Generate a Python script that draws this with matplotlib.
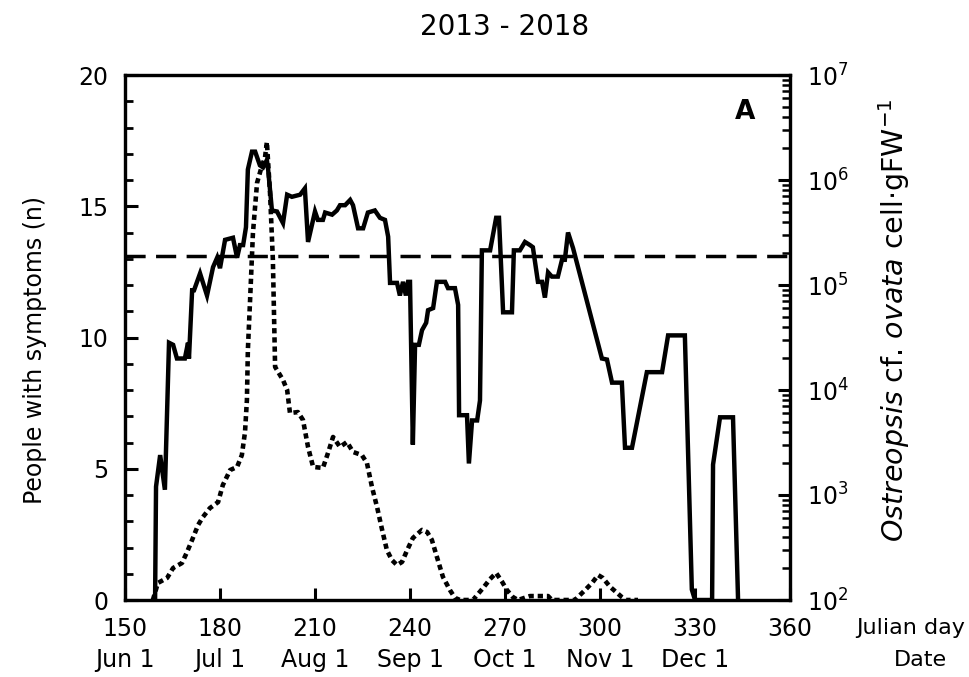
import matplotlib
matplotlib.use("Agg")
import matplotlib.pyplot as plt
from matplotlib.ticker import MultipleLocator, FixedLocator

plt.rcParams['font.family'] = ['DejaVu Sans']
plt.rcParams['mathtext.fontset'] = 'dejavusans'

# ---- data ----
# Ostreopsis cf. ovata abundance (cells gFW^-1), log10 values, right axis
ost_day = [159.5, 159.8, 161.1, 162.6, 163.9, 165.2, 166.4, 168.9, 169.9, 170.2,
           171.2, 171.8, 173.7, 175.9, 177.8, 179.1, 180.0, 181.6, 184.1, 185.4,
           186.3, 187.3, 188.2, 188.8, 190.1, 191.1, 192.6, 193.6, 194.8, 195.2,
           196.4, 198.0, 199.9, 201.2, 202.7, 205.3, 206.8, 207.8, 210.0, 210.9,
           212.5, 213.2, 215.4, 216.9, 217.9, 219.5, 221.1, 222.0, 223.6, 225.2,
           226.7, 228.9, 230.5, 232.1, 233.1, 233.7, 235.9, 236.8, 237.8, 238.7,
           239.4, 240.0, 240.9, 241.6, 242.8, 243.8, 245.1, 245.7, 247.3, 248.5,
           251.1, 252.0, 254.2, 255.2, 255.5, 258.0, 258.6, 259.6, 261.2, 262.1,
           262.7, 265.3, 267.2, 268.1, 269.4, 272.2, 272.8, 274.7, 276.3, 277.9,
           278.8, 280.4, 281.7, 282.6, 283.6, 284.8, 286.7, 288.0, 288.9, 289.9,
           291.5, 300.6, 302.2, 303.8, 306.9, 307.9, 310.1, 314.8, 319.6, 321.5,
           326.8, 329.0, 330.0, 335.4, 335.7, 337.9, 342.0, 343.6]
ost_log = [2.00, 3.08, 3.38, 3.05, 4.45, 4.43, 4.30, 4.30, 4.45, 4.30,
           4.95, 4.95, 5.11, 4.90, 5.17, 5.26, 5.16, 5.43, 5.45, 5.26,
           5.38, 5.38, 5.55, 6.10, 6.27, 6.27, 6.14, 6.12, 6.19, 6.10,
           5.71, 5.70, 5.59, 5.86, 5.84, 5.86, 5.92, 5.41, 5.70, 5.62,
           5.62, 5.69, 5.67, 5.71, 5.76, 5.76, 5.81, 5.76, 5.54, 5.54,
           5.69, 5.71, 5.64, 5.62, 5.46, 5.02, 5.02, 4.90, 5.03, 4.90,
           5.03, 5.03, 3.48, 4.43, 4.43, 4.57, 4.64, 4.76, 4.78, 5.03,
           5.03, 4.97, 4.97, 4.81, 3.76, 3.76, 3.30, 3.71, 3.71, 3.90,
           5.33, 5.33, 5.64, 5.64, 4.74, 4.74, 5.33, 5.33, 5.41, 5.38,
           5.36, 5.03, 5.03, 4.88, 5.12, 5.08, 5.08, 5.24, 5.24, 5.50,
           5.35, 4.30, 4.29, 4.07, 4.07, 3.45, 3.45, 4.17, 4.17, 4.52,
           4.52, 2.10, 2.00, 2.00, 3.29, 3.74, 3.74, 2.00]

# People with symptoms (n), left axis
ppl_day = [158.8, 160.4, 163.3, 165.2, 168.0, 169.6, 171.2, 173.1, 174.6, 176.8,
           179.4, 180.9, 183.2, 185.4, 186.9, 187.9, 188.5, 188.8, 189.5, 190.4,
           191.7, 193.3, 194.2, 194.8, 195.8, 196.7, 197.4, 199.9, 201.2, 202.1,
           204.6, 206.2, 207.8, 209.4, 212.5, 214.1, 215.7, 217.9, 220.1, 222.0,
           224.8, 226.4, 228.0, 229.6, 231.2, 232.7, 234.3, 235.9, 237.5, 239.1,
           240.9, 243.8, 245.4, 246.9, 248.5, 250.4, 252.6, 254.2, 255.8, 259.9,
           261.2, 263.1, 265.3, 267.2, 269.1, 270.6, 272.5, 274.1, 277.9, 283.6,
           284.8, 292.1, 293.0, 295.3, 297.5, 299.4, 300.9, 303.2, 305.4, 306.9,
           308.2, 312.0]
ppl_n = [0.00, 0.65, 0.84, 1.22, 1.41, 1.83, 2.29, 2.86, 3.16, 3.50,
         3.73, 4.38, 4.95, 5.07, 5.52, 6.40, 7.62, 9.52, 11.43, 13.98,
         15.89, 16.57, 16.84, 17.45, 15.50, 12.95, 8.88, 8.38, 8.00, 7.12,
         7.16, 6.86, 5.83, 5.07, 5.03, 5.60, 6.21, 5.83, 6.02, 5.64,
         5.52, 5.22, 4.30, 3.54, 2.67, 1.90, 1.52, 1.33, 1.45, 1.90,
         2.36, 2.67, 2.59, 2.29, 1.64, 0.88, 0.38, 0.08, 0.00, 0.00,
         0.19, 0.46, 0.80, 1.03, 0.69, 0.38, 0.11, 0.00, 0.15, 0.15,
         0.00, 0.00, 0.11, 0.38, 0.65, 0.95, 0.84, 0.50, 0.27, 0.11,
         0.00, 0.00]

threshold_n = 13.1

xticks = [150, 180, 210, 240, 270, 300, 330, 360]
date_days = [150, 180, 210, 240, 270, 300, 330]
date_labels = ["Jun 1", "Jul 1", "Aug 1", "Sep 1", "Oct 1", "Nov 1", "Dec 1"]

# ---- figure ----
W, H = 969, 677
fig = plt.figure(figsize=(W / 100, H / 100), dpi=100)
ax = fig.add_axes([125 / W, 1 - 600 / H, 665 / W, 525 / H])
ax2 = ax.twinx()

FS = 17
lw_spine = 2.3

# people (dotted)
ax.plot(ppl_day, ppl_n, color='black', lw=3.3, linestyle=(0, (1.15, 0.85)),
        dash_capstyle='butt')
# threshold dashed line
ax.axhline(threshold_n, color='black', lw=2.5, linestyle=(0, (5.8, 3.0)))

ax.set_xlim(150, 360)
ax.set_ylim(0, 20)
ax.xaxis.set_major_locator(FixedLocator(xticks))
ax.set_xticklabels([str(t) for t in xticks])
ax.yaxis.set_major_locator(MultipleLocator(5))
ax.yaxis.set_minor_locator(MultipleLocator(1))
ax.tick_params(axis='x', which='major', direction='in', length=9, width=2.2,
               labelsize=FS, pad=12, top=False)
ax.tick_params(axis='y', which='major', direction='in', length=9, width=2.2,
               labelsize=FS, pad=12, right=False)
ax.tick_params(axis='y', which='minor', direction='in', length=5.5, width=2.0,
               right=False)
for s in ax.spines.values():
    s.set_linewidth(lw_spine)
ax.set_ylabel("People with symptoms (n)", fontsize=17)
ax.yaxis.set_label_coords(-0.118, 0.476)

# Ostreopsis (solid, log)
ost_vals = [10 ** v for v in ost_log]
ax2.plot(ost_day, ost_vals, color='black', lw=3.2, solid_joinstyle='miter')
ax2.set_yscale('log')
ax2.set_ylim(1e2, 1e7)
ax2.tick_params(axis='y', which='major', direction='in', length=9, width=2.2,
                labelsize=FS, pad=12)
ax2.tick_params(axis='y', which='minor', direction='in', length=5.5, width=1.8)
for s in ax2.spines.values():
    s.set_linewidth(lw_spine)
ax2.set_ylabel(r"$\mathit{Ostreopsis}$ cf. $\mathit{ovata}$ cell$\cdot$gFW$^{-1}$",
               fontsize=20.5)
ax2.yaxis.set_label_coords(1.13, 0.533)

# dates row
for d, lab in zip(date_days, date_labels):
    ax.text(d, -0.114, lab, transform=ax.get_xaxis_transform(),
            ha='center', va='center', fontsize=FS)

fig.text(911 / W, 1 - 628 / H, "Julian day", ha='center', va='center', fontsize=16)
fig.text(920 / W, 1 - 660 / H, "Date", ha='center', va='center', fontsize=16)
fig.text(505 / W, 1 - 27 / H, "2013 - 2018", ha='center', va='center', fontsize=20)
ax.text(0.932, 0.93, "A", transform=ax.transAxes, ha='center', va='center',
        fontsize=19, fontweight='bold')

fig.savefig("out.png", dpi=100)
